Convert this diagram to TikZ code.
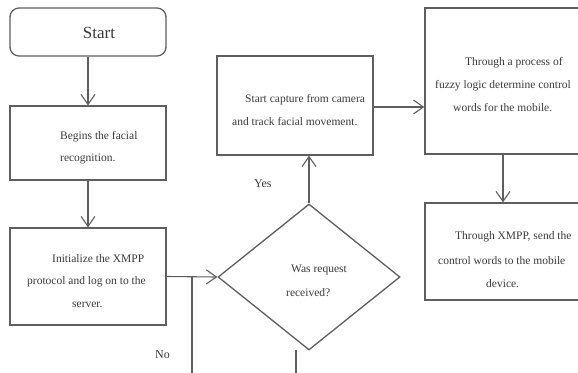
\documentclass[tikz,border=0pt]{standalone}
\usepackage{fontspec}
\setmainfont{Liberation Serif}
\usetikzlibrary{arrows.meta,shapes.geometric}
\definecolor{linec}{HTML}{5E5E5E}
\definecolor{textc}{HTML}{3A3A3A}
\begin{document}
\begin{tikzpicture}[x=1pt,y=-1pt,
  box/.style={draw=linec,line width=1.3pt,rectangle,inner sep=0pt},
  conn/.style={draw=linec,line width=1.1pt},
  arr/.style={conn,-{Straight Barb[length=10pt,width=14pt,line width=1.1pt]}},
  txt/.style={text=textc,font=\fontsize{11.5}{14}\selectfont,inner sep=0pt,anchor=west},
  lbl/.style={text=textc,font=\fontsize{12}{14}\selectfont,inner sep=0pt,anchor=west}]
\useasboundingbox (0,0) rectangle (578,372);
\clip (0,0) rectangle (578,372);
% boxes
\node[box,rounded corners=9pt,minimum width=156pt,minimum height=48pt] (start) at (88,32) {};
\node[text=textc,font=\fontsize{17}{20}\selectfont,inner sep=0pt] (starttxt) at (99,33) {Start};
\node[box,minimum width=156pt,minimum height=74pt] (begins) at (88,143) {};
\node[box,minimum width=156pt,minimum height=97pt] (init) at (88,276.5) {};
\node[box,minimum width=156pt,minimum height=99pt] (capture) at (295,105.5) {};
\node[draw=linec,line width=1.3pt,diamond,inner sep=0pt,minimum width=182pt,minimum height=146pt] (dia) at (309,277) {};
\node[box,minimum width=170pt,minimum height=146pt] (fuzzy) at (510,81) {};
\node[box,minimum width=170pt,minimum height=97pt] (xmpp) at (510,251.5) {};
% texts
\node[txt] (b1) at (60,137) {Begins the facial};
\node[txt] (b2) at (60,159) {recognition.};
\node[txt] (i1) at (52,259) {Initialize the XMPP};
\node[txt] (i2) at (27,282) {protocol and log on to the};
\node[txt] (i3) at (72,305) {server.};
\node[txt] (c1) at (245,100) {Start capture from camera};
\node[txt] (c2) at (232,122) {and track facial movement.};
\node[txt] (d1) at (291,270) {Was request};
\node[txt] (d2) at (286,293) {received?};
\node[txt] (f1) at (465,63) {Through a process of};
\node[txt] (f2) at (435,86) {fuzzy logic determine control};
\node[txt] (f3) at (453,108) {words for the mobile.};
\node[txt] (x1) at (455,237) {Through XMPP, send the};
\node[txt] (x2) at (438,261) {control words to the mobile};
\node[txt] (x3) at (486,284) {device.};
\node[lbl] (yes) at (254,184) {Yes};
\node[lbl] (no) at (155,355) {No};
% coordinates
\coordinate (j1) at (192,276.5);
\coordinate (noend) at (192,380);
\coordinate (d2top) at (296,350);
\coordinate (d2end) at (296,380);
% connectors
\draw[arr] (start.south) -- (begins.north);
\draw[arr] (begins.south) -- (init.north);
\draw[arr] (init.east) -- (dia.west);
\draw[conn] (j1) -- (noend);
\draw[conn] (d2top) -- (d2end);
\draw[arr] (dia.north) -- (dia.north |- capture.south);
\draw[arr] ([yshift=-1.5pt]capture.east) -- ([yshift=-1.5pt]capture.east -| fuzzy.west);
\draw[arr] ([xshift=-7pt]fuzzy.south) -- ([xshift=-7pt]xmpp.north);
\end{tikzpicture}
\end{document}
